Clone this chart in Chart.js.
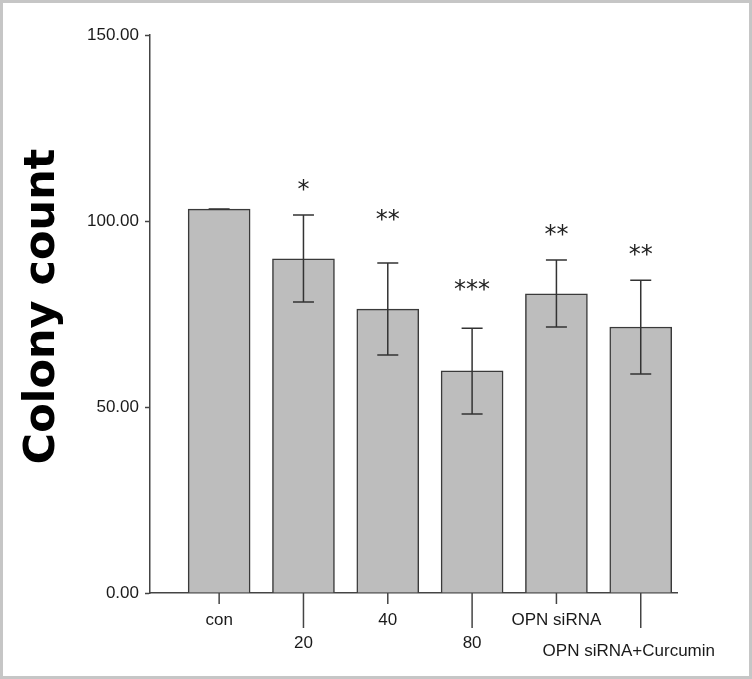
<!DOCTYPE html>
<html>
<head>
<meta charset="utf-8">
<script src="https://cdn.jsdelivr.net/npm/chart.js@4"></script>
<style>
    body { margin: 0; background: #fff; }
    #wrap { position: relative; width: 752px; height: 679px; }
    #frame { position: absolute; left: 0; top: 0; width: 752px; height: 679px; box-sizing: border-box; border: 3px solid #c6c6c6; pointer-events: none; }
</style>
</head>
<body>
<div id="wrap">
    <canvas id="colony" width="752" height="679"></canvas>
    <div id="frame"></div>
</div>
<script>
// values
const groups = ['con', '20', '40', '80', 'OPN siRNA', 'OPN siRNA+Curcumin'];
const colonyMean = [103.2, 89.8, 76.3, 59.7, 80.4, 71.5];
const errHigh = [103.2, 101.6, 88.7, 71.2, 89.5, 84.1];
const errLow = [103.2, 78.2, 64.0, 48.1, 71.5, 58.9];
const sigMarks = ['', '*', '**', '***', '**', '**'];
const sigLevel = [null, 110.2, 102.2, 83.3, 98.1, 92.7];
const yTicks = [0, 50, 100, 150];
const labelRow = [0, 1, 0, 1, 0, 1];

const axisColor = '#444';
const labelFont = '17px "Liberation Sans", Arial, sans-serif';

const errorBars = {
    id: 'errorBars',
    afterDatasetsDraw(chart) {
        const ctx = chart.ctx, xs = chart.scales.x, ys = chart.scales.y;
        ctx.save();
        ctx.strokeStyle = '#333';
        ctx.lineWidth = 1.5;
        groups.forEach((g, i) => {
            const x = xs.getPixelForValue(i);
            const top = ys.getPixelForValue(errHigh[i]);
            const bot = ys.getPixelForValue(errLow[i]);
            ctx.beginPath();
            ctx.moveTo(x, top); ctx.lineTo(x, bot);
            ctx.moveTo(x - 10.5, top); ctx.lineTo(x + 10.5, top);
            ctx.moveTo(x - 10.5, bot); ctx.lineTo(x + 10.5, bot);
            ctx.stroke();
            if (sigLevel[i] != null) {
                ctx.fillStyle = '#222';
                ctx.font = '24px "DejaVu Sans", sans-serif';
                ctx.textAlign = 'center';
                ctx.textBaseline = 'alphabetic';
                ctx.fillText(sigMarks[i], x, ys.getPixelForValue(sigLevel[i]) + 14);
            }
        });
        ctx.restore();
    },
    afterDraw(chart) {
        // staggered category labels under the x axis
        const ctx = chart.ctx, xs = chart.scales.x;
        const base = chart.chartArea.bottom;
        ctx.save();
        ctx.strokeStyle = axisColor;
        ctx.lineWidth = 1.5;
        ctx.fillStyle = '#1a1a1a';
        ctx.font = labelFont;
        ctx.textBaseline = 'middle';
        ctx.textAlign = 'center';
        groups.forEach((g, i) => {
            const x = xs.getPixelForValue(i);
            const tick = labelRow[i] ? 35 : 11;
            ctx.beginPath();
            ctx.moveTo(x, base); ctx.lineTo(x, base + tick);
            ctx.stroke();
            let lx = x;
            const w = ctx.measureText(g).width;
            if (lx + w / 2 > chart.width - 37) lx = chart.width - 37 - w / 2;
            const ly = labelRow[i] ? (i === groups.length - 1 ? 58 : 50) : 27;
            ctx.fillText(g, lx, base + ly);
        });
        ctx.restore();
    }
};

new Chart(document.getElementById('colony'), {
    type: 'bar',
    data: {
        datasets: [{
            data: colonyMean.map((v, i) => ({ x: i, y: v })),
            backgroundColor: '#bdbdbd',
            borderColor: '#3a3a3a',
            borderWidth: 1.5,
            barThickness: 62
        }]
    },
    options: {
        responsive: false,
        animation: false,
        devicePixelRatio: 1,
        layout: { padding: { top: 35, right: 75, bottom: 0, left: 0 } },
        plugins: { legend: { display: false }, tooltip: { enabled: false } },
        scales: {
            x: {
                type: 'linear',
                min: -0.82,
                max: 5.43,
                offset: false,
                grid: { display: false },
                border: { display: true, color: axisColor, width: 1.5 },
                ticks: { display: false },
                afterFit: s => { s.height = 86; }
            },
            y: {
                min: 0,
                max: 150,
                afterBuildTicks: s => { s.ticks = yTicks.map(v => ({ value: v })); },
                ticks: {
                    color: '#1a1a1a',
                    font: { family: '"Liberation Sans", Arial, sans-serif', size: 17 },
                    padding: 6,
                    callback: v => v.toFixed(2)
                },
                grid: { drawOnChartArea: false, drawTicks: true, tickLength: 5, tickColor: axisColor, tickWidth: 1.5 },
                border: { display: true, color: axisColor, width: 1.5 },
                title: {
                    display: true,
                    text: ' Colony count',
                    color: '#000',
                    font: { family: '"DejaVu Sans", sans-serif', size: 43, weight: 'bold' },
                    padding: { top: 17 }
                },
                afterFit: s => { s.width = 150; }
            }
        }
    },
    plugins: [errorBars]
});
</script>
</body>
</html>
